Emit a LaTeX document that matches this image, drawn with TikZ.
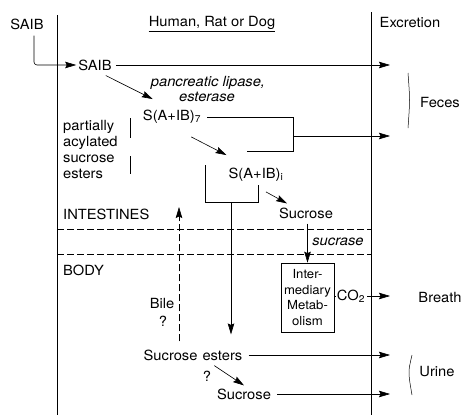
\documentclass[tikz,border=0pt]{standalone}
\usepackage{fontspec}
\setmainfont[FakeStretch=1.05]{TeX Gyre Heros}
\usetikzlibrary{arrows.meta}
\begin{document}
\begin{tikzpicture}[x=1pt,y=-1pt,
  every node/.style={font=\fontsize{14}{16}\selectfont, inner sep=0pt},
  itl/.style={font=\fontsize{14}{16}\selectfont\itshape},
  boxtxt/.style={font=\fontsize{12.5}{15.5}\selectfont, align=center},
  arr/.style={-{Stealth[length=11pt,width=6.5pt,inset=1.5pt]}, line width=0.6pt},
  ln/.style={line width=0.6pt},
  thinln/.style={line width=0.5pt},
  dsh/.style={line width=0.6pt, dash pattern=on 7pt off 3pt}
]
\useasboundingbox (0,0) rectangle (462,415);

% lanes
\draw[ln] (57,15) -- (57,415);
\draw[ln] (371,12) -- (371,415);
\draw[dsh] (57,229) -- (371,229);
\draw[dsh] (57,254) -- (371,254);

% headings
\node (saib0) at (27,24) {SAIB};
\node (title) at (212,23) {Human, Rat or Dog};
\draw[ln] ([yshift=-1pt]title.south west) -- ([yshift=-1pt]title.south east);
\node (excr) at (410,23) {Excretion};

% excretion coordinates
\coordinate (fec1) at (390,65);
\coordinate (fec2) at (390,136);
\coordinate (br1) at (390,296);
\coordinate (uri1) at (390,355);
\coordinate (uri2) at (390,394);

% SAIB
\node (saib1) at (95,65) {SAIB};
\draw[arr, rounded corners=3pt] ([xshift=7pt,yshift=-6pt]saib0.south) |- ([xshift=-2pt]saib1.west);
\draw[arr] ([xshift=4pt]saib1.east) -- (fec1);
\node[itl] (lip) at (208,83) {pancreatic lipase,};
\node[itl] (est) at (207,97) {esterase};

% S(A+IB)7
\node (s7) at (172,117) {S(A+IB)\textsubscript{7}};
\draw[arr] ([shift={(-6,5)}]saib1.south east) -- ([shift={(10,-11)}]s7.north west);
\coordinate (bk2) at (293,151);
\coordinate (bk3) at (247,151);
\coordinate (bkm) at (293,136);
\draw[ln] ([xshift=6pt]s7.east) -| (bk2) -- (bk3);
\draw[arr] (bkm) -- (fec2);

% partially acylated
\node[align=left, anchor=west, font=\fontsize{14}{16}\selectfont] (pace) at (63,149) {partially\\acylated\\sucrose\\esters};
\draw[thinln] (130,118) -- (130,138);
\draw[thinln] (130,156) -- (130,174);

% S(A+IB)i
\node (si) at (256,175) {S(A+IB)\textsubscript{i}};
\draw[arr] ([shift={(-10,13)}]s7.south east) -- ([shift={(-2,-13)}]si.north west);
\coordinate (brL) at (205,165);
\coordinate (brB) at (231,202);
\draw[ln] (brL) |- ([xshift=2pt]si.south |- brB) -- ([xshift=2pt,yshift=-3pt]si.south);

% Sucrose in intestine
\node (suc1) at (306,213) {Sucrose};
\draw[arr] ([shift={(10,10)}]si.south) -- ([shift={(-19,-4)}]suc1.north);

\node (intest) [anchor=west] at (63,214) {INTESTINES};
\node (body) [anchor=west] at (63,270) {BODY};
\node[itl] (sucrase) at (338,242) {sucrase};

% intermediary metabolism
\node[draw, line width=0.6pt, minimum width=53pt, minimum height=69pt, boxtxt] (box) at (307.5,297.5) {Inter-\\mediary\\Metab-\\olism};
\draw[arr] ([yshift=-5pt]suc1.south -| box.north) -- (box.north);
\node (co2) at (351,296) {CO\textsubscript{2}};
\draw[ln] (box.east |- co2.west) -- ([xshift=-1pt]co2.west);
\draw[arr] ([xshift=2pt]co2.east) -- (br1);
\node (breath) at (440,297) {Breath};

% sucrose esters in body
\node (sest) at (193,355) {Sucrose\hspace{5pt}esters};
\draw[arr] (brB) -- ([yshift=15pt]brB |- sest.north);
\coordinate (bileTop) at (179,207);
\draw[arr, dsh] ([yshift=8pt]sest.north -| bileTop) -- (bileTop);
\node (bile) at (162,303) {Bile};
\node (q1) at (163,321) {?};
\draw[arr] ([xshift=6pt]sest.east) -- (uri1);

\node (q2) at (207,376) {?};
\node (suc2) at (244,394) {Sucrose};
\draw[arr] ([shift={(3,-5)}]q2.north east) -- ([yshift=3pt]suc2.north);
\draw[arr] ([xshift=6pt]suc2.east) -- (uri2);

% excretion labels
\node (feces) at (440,102) {Feces};
\draw[thinln] (408,73) .. controls (410,100) .. (408,128);
\node (urine) at (437,372) {Urine};
\draw[thinln] (412,355) .. controls (408,372) .. (412,395);
\end{tikzpicture}
\end{document}
